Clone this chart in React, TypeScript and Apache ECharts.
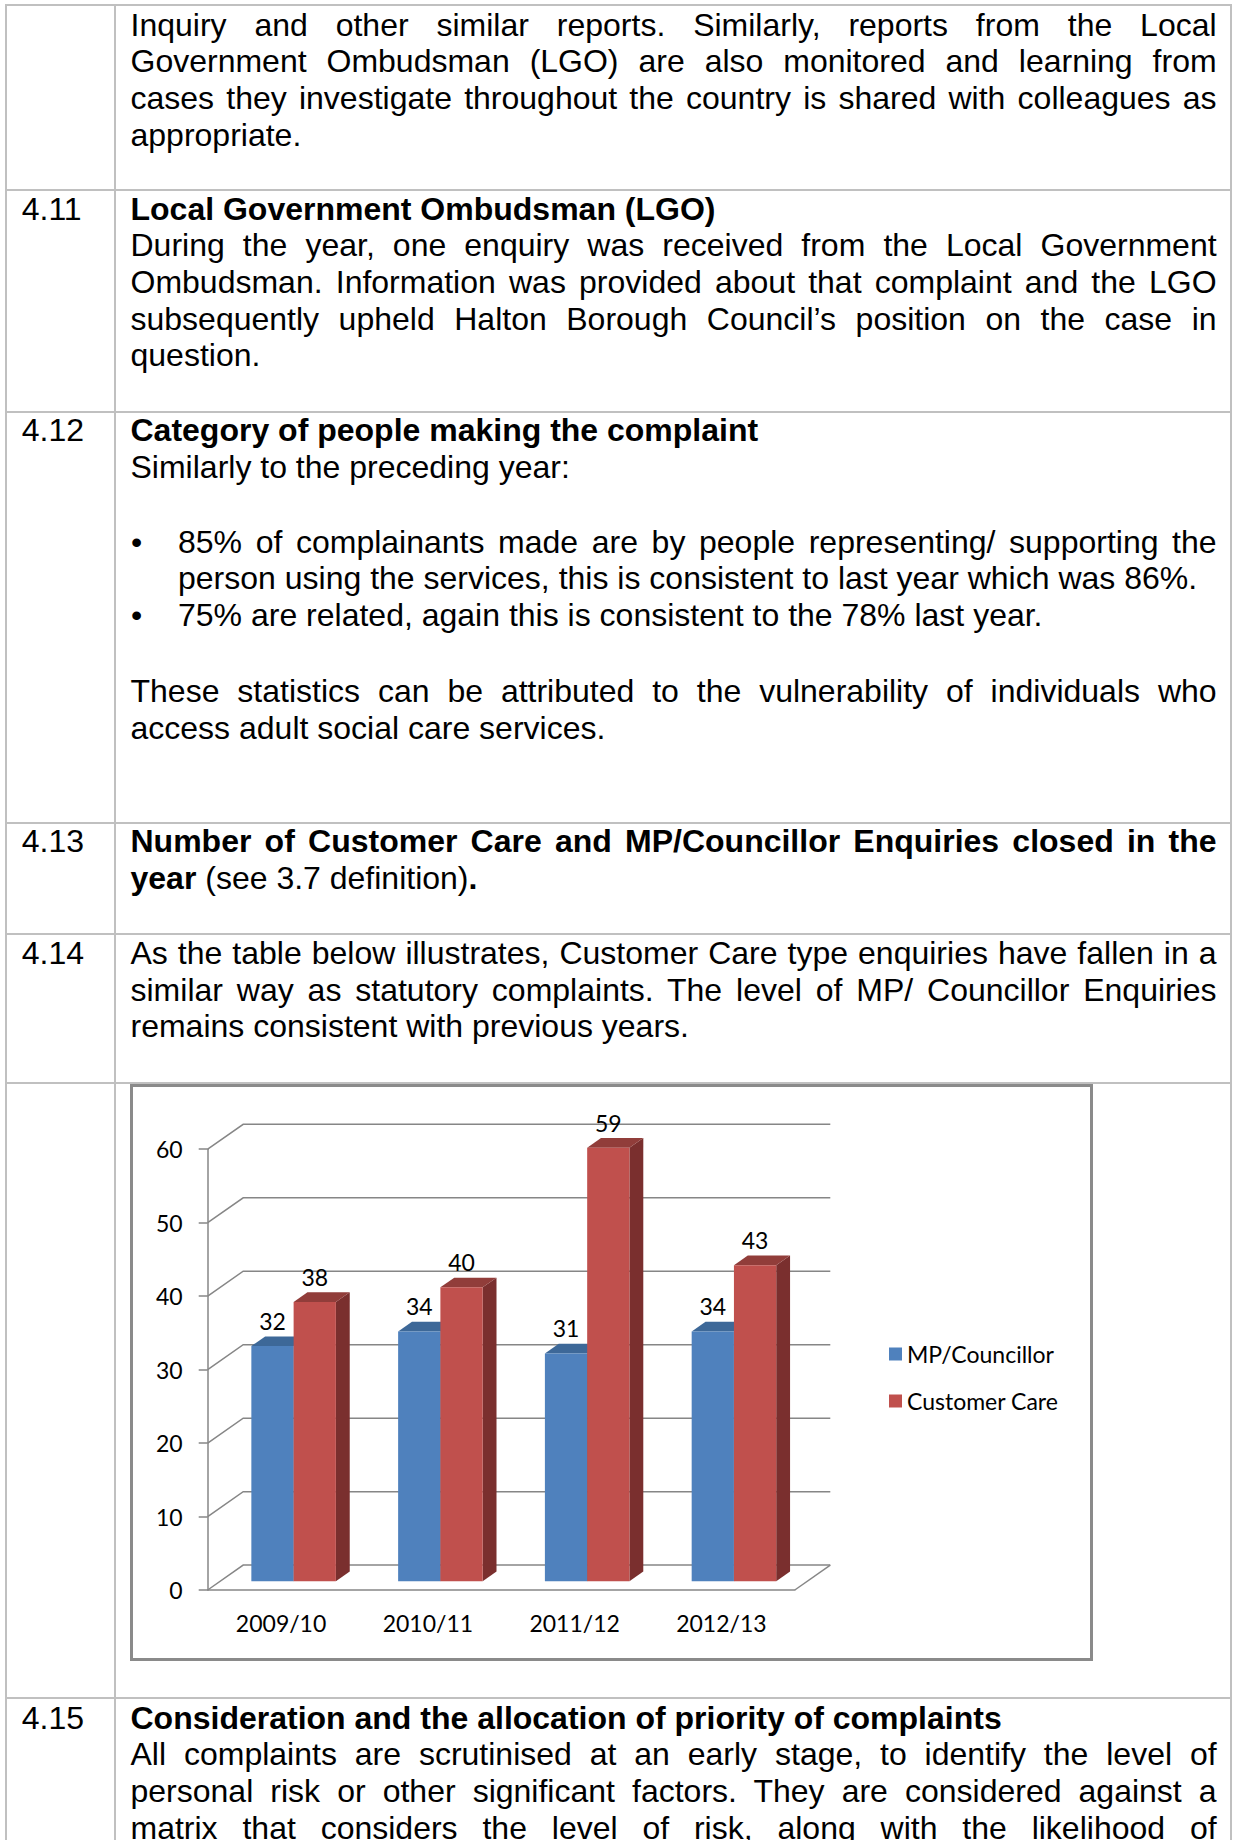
import React, { useEffect, useRef } from "react";
import * as echarts from "echarts";

// ---------- chart data ----------
const categories = ["2009/10", "2010/11", "2011/12", "2012/13"];
const mpCouncillor = [32, 34, 31, 34];
const customerCare = [38, 40, 59, 43];
const yTicks = [0, 10, 20, 30, 40, 50, 60];
const seriesNames = ["MP/Councillor", "Customer Care"];

const FONT = '"Liberation Sans", Arial, Helvetica, sans-serif';
const CH_FONT = 'Lato, "Noto Sans", sans-serif';

// 3D look (pixel depth of the walls, fractions of it for the bars)
const WALL_DX = 35.5;
const WALL_DY = -24.9;
const BAR_FRONT = 0.353;
const BAR_DEPTH = 0.39;
const BAR_W = 0.288;
const CH_TOP = 1080;

const blueC = { front: "#4F81BD", top: "#3D6898", side: "#30547E" };
const redC = { front: "#C0504D", top: "#913D3A", side: "#7A2F2E" };

function barRender(idx: number, c: { front: string; top: string; side: string }) {
  return (params: any, api: any) => {
    const ci = api.value(0);
    const v = api.value(1);
    const band = api.size([1, 0])[0];
    const base = api.coord([ci, 0]);
    const top = api.coord([ci, v]);
    const fx = WALL_DX * BAR_FRONT;
    const fy = WALL_DY * BAR_FRONT;
    const dx = WALL_DX * BAR_DEPTH;
    const dy = WALL_DY * BAR_DEPTH;
    const bw = band * BAR_W;
    const left = base[0] + fx - bw + idx * bw;
    const y0 = base[1] + fy;
    const y1 = top[1] + fy;
    return {
      type: "group",
      children: [
        {
          type: "polygon",
          shape: { points: [[left + bw, y1], [left + bw + dx, y1 + dy], [left + bw + dx, y0 + dy], [left + bw, y0]] },
          style: { fill: c.side },
        },
        {
          type: "polygon",
          shape: { points: [[left, y1], [left + bw, y1], [left + bw + dx, y1 + dy], [left + dx, y1 + dy]] },
          style: { fill: c.top },
        },
        {
          type: "rect",
          shape: { x: left, y: y1, width: bw, height: y0 - y1 },
          style: { fill: c.front },
        },
        {
          type: "text",
          x: left + bw / 2,
          y: y1 - 25,
          style: { text: String(v), fill: "#000", font: `23px ${CH_FONT}`, align: "center", verticalAlign: "middle" },
        },
      ],
    };
  };
}

function wallRender(params: any, api: any) {
  const v = api.value(1);
  const band = api.size([1, 0])[0];
  const pL = api.coord([0, v]);
  const xL = pL[0] - band / 2;
  const xR = api.coord([categories.length - 1, v])[0] + band / 2;
  const y = pL[1];
  const ls = { stroke: "#868686", lineWidth: 1.5, fill: null };
  const children: any[] = [
    {
      type: "polyline",
      shape: { points: [[xL, y], [xL + WALL_DX, y + WALL_DY], [xR + WALL_DX, y + WALL_DY]] },
      style: ls,
    },
  ];
  if (v === 0) {
    children.push({
      type: "line",
      shape: { x1: xR, y1: y, x2: xR + WALL_DX, y2: y + WALL_DY },
      style: ls,
    });
  }
  return { type: "group", children };
}

const axisLineStyle = { color: "#868686", width: 1.5 };

const option: any = {
  animation: false,
  grid: { left: 207.7, top: 1149.2 - CH_TOP, width: 587.1, height: 440.8 },
  xAxis: {
    type: "category",
    data: categories,
    boundaryGap: true,
    axisLine: { lineStyle: axisLineStyle },
    axisTick: { length: 8, lineStyle: axisLineStyle },
    axisLabel: { margin: 21, fontSize: 23, fontFamily: CH_FONT, color: "#000" },
    splitLine: { show: false },
  },
  yAxis: {
    type: "value",
    min: 0,
    max: 60,
    interval: 10,
    axisLine: { show: true, lineStyle: axisLineStyle },
    axisTick: { show: true, length: 9, lineStyle: axisLineStyle },
    axisLabel: { margin: 25, fontSize: 23, fontFamily: CH_FONT, color: "#000" },
    splitLine: { show: false },
  },
  legend: {
    orient: "vertical",
    left: 884,
    top: 1349 - CH_TOP - 12,
    itemWidth: 13,
    itemHeight: 13,
    itemGap: 23,
    icon: "rect",
    data: seriesNames,
    textStyle: { fontSize: 23, fontFamily: CH_FONT, color: "#000", lineHeight: 24 },
  },
  series: [
    {
      type: "custom",
      name: "walls",
      z: 1,
      data: yTicks.map((v) => [0, v]),
      encode: { x: 0, y: 1 },
      renderItem: wallRender,
      silent: true,
    },
    {
      type: "custom",
      name: seriesNames[0],
      z: 2,
      itemStyle: { color: blueC.front },
      data: mpCouncillor.map((v, i) => [i, v]),
      encode: { x: 0, y: 1 },
      renderItem: barRender(0, blueC),
    },
    {
      type: "custom",
      name: seriesNames[1],
      z: 3,
      itemStyle: { color: redC.front },
      data: customerCare.map((v, i) => [i, v]),
      encode: { x: 0, y: 1 },
      renderItem: barRender(1, redC),
    },
  ],
};

// ---------- document text ----------
type Seg = { t: string; b?: boolean };
type Line = { y: number; segs: Seg[]; j?: boolean; x?: number; bullet?: boolean };

const X0 = 130.5;
const XR = 1216.6;
const XB = 178;
const LH = 36.6;

const numbers: { y: number; t: string }[] = [
  { y: 209, t: "4.11" },
  { y: 430.7, t: "4.12" },
  { y: 841.7, t: "4.13" },
  { y: 953.3, t: "4.14" },
  { y: 1718, t: "4.15" },
];

const lines: Line[] = [
  { y: 25, j: true, segs: [{ t: "Inquiry and other similar reports. Similarly, reports from the Local" }] },
  { y: 61.6, j: true, segs: [{ t: "Government Ombudsman (LGO) are also monitored and learning from" }] },
  { y: 98.2, j: true, segs: [{ t: "cases they investigate throughout the country is shared with colleagues as" }] },
  { y: 134.8, segs: [{ t: "appropriate." }] },

  { y: 209, segs: [{ t: "Local Government Ombudsman (LGO)", b: true }] },
  { y: 245.6, j: true, segs: [{ t: "During the year, one enquiry was received from the Local Government" }] },
  { y: 282.2, j: true, segs: [{ t: "Ombudsman. Information was provided about that complaint and the LGO" }] },
  { y: 318.8, j: true, segs: [{ t: "subsequently upheld Halton Borough Council\u2019s position on the case in" }] },
  { y: 355.4, segs: [{ t: "question." }] },

  { y: 430.7, segs: [{ t: "Category of people making the complaint", b: true }] },
  { y: 467.3, segs: [{ t: "Similarly to the preceding year:" }] },
  { y: 542, j: true, x: XB, bullet: true, segs: [{ t: "85% of complainants made are by people representing/ supporting the" }] },
  { y: 578.6, x: XB, segs: [{ t: "person using the services, this is consistent to last year which was 86%." }] },
  { y: 615.2, x: XB, bullet: true, segs: [{ t: "75% are related, again this is consistent to the 78% last year." }] },
  { y: 691.7, j: true, segs: [{ t: "These statistics can be attributed to the vulnerability of individuals who" }] },
  { y: 728.3, segs: [{ t: "access adult social care services." }] },

  { y: 841.7, j: true, segs: [{ t: "Number of Customer Care and MP/Councillor Enquiries closed in the", b: true }] },
  { y: 878.3, segs: [{ t: "year", b: true }, { t: " (see 3.7 definition)" }, { t: ".", b: true }] },

  { y: 953.3, j: true, segs: [{ t: "As the table below illustrates, Customer Care type enquiries have fallen in a" }] },
  { y: 989.9, j: true, segs: [{ t: "similar way as statutory complaints. The level of MP/ Councillor Enquiries" }] },
  { y: 1026.5, segs: [{ t: "remains consistent with previous years." }] },

  { y: 1718, segs: [{ t: "Consideration and the allocation of priority of complaints", b: true }] },
  { y: 1754.6, j: true, segs: [{ t: "All complaints are scrutinised at an early stage, to identify the level of" }] },
  { y: 1791.2, j: true, segs: [{ t: "personal risk or other significant factors. They are considered against a" }] },
  { y: 1827.8, j: true, segs: [{ t: "matrix that considers the level of risk, along with the likelihood of" }] },
];

const rowLines = [5, 190, 411.7, 822.7, 934.3, 1082.7, 1698.3];
const colLines = [6, 114.7, 1231];
const LINE_C = "#c0c0c0";

export default function App() {
  const ref = useRef<HTMLDivElement>(null);
  useEffect(() => {
    document.body.style.margin = "0";
    const chart = echarts.init(ref.current!, null, { renderer: "svg" });
    chart.setOption(option);
    return () => chart.dispose();
  }, []);

  return (
    <div
      style={{
        position: "relative",
        width: 1234,
        height: 1840,
        overflow: "hidden",
        background: "#fff",
        fontFamily: FONT,
        color: "#000",
        fontSize: 32,
      }}
    >
      {rowLines.map((y, i) => (
        <div
          key={"r" + i}
          style={{ position: "absolute", left: 5, width: 1227, top: y - 1, height: 2, background: LINE_C }}
        />
      ))}
      {colLines.map((x, i) => (
        <div
          key={"c" + i}
          style={{ position: "absolute", left: x - 1, width: 2, top: 4, height: 1840, background: LINE_C }}
        />
      ))}
      {numbers.map((n, i) => (
        <div
          key={"n" + i}
          style={{
            position: "absolute",
            left: 21.7,
            top: n.y - LH / 2,
            height: LH,
            lineHeight: LH + "px",
            whiteSpace: "nowrap",
          }}
        >
          {n.t}
        </div>
      ))}
      {lines.map((l, i) => {
        const x = l.x ?? X0;
        return (
          <React.Fragment key={"l" + i}>
            {l.bullet && (
              <div
                style={{
                  position: "absolute",
                  left: 131,
                  top: l.y - LH / 2,
                  height: LH,
                  lineHeight: LH + "px",
                }}
              >
                {"\u2022"}
              </div>
            )}
            <div
              style={{
                position: "absolute",
                left: x,
                width: XR - x,
                top: l.y - LH / 2,
                height: LH,
                lineHeight: LH + "px",
                whiteSpace: l.j ? "normal" : "nowrap",
                textAlign: l.j ? "justify" : "left",
                textAlignLast: l.j ? "justify" : "auto",
              } as any}
            >
              {l.segs.map((s, k) => (
                <span key={k} style={{ fontWeight: s.b ? "bold" : "normal" }}>
                  {s.t}
                </span>
              ))}
            </div>
          </React.Fragment>
        );
      })}
      <div
        style={{
          position: "absolute",
          left: 130,
          top: 1084,
          width: 963,
          height: 577,
          border: "3px solid #8a8a8a",
          boxSizing: "border-box",
          background: "#fff",
        }}
      />
      <div ref={ref} style={{ position: "absolute", left: 0, top: CH_TOP, width: 1234, height: 600 }} />
    </div>
  );
}
